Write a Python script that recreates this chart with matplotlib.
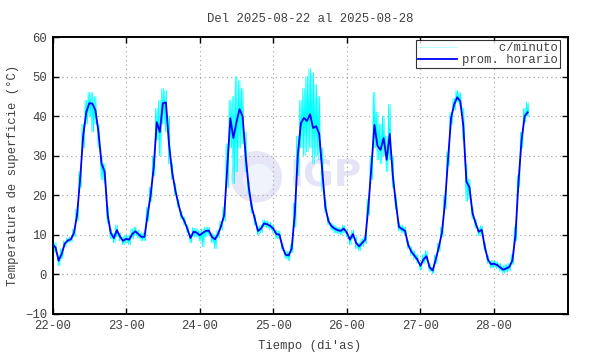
import numpy as np
import matplotlib
matplotlib.use("Agg")
import matplotlib.pyplot as plt
from matplotlib.patches import Ellipse

plt.rcParams["font.family"] = ["Liberation Mono", "DejaVu Sans Mono"]

title = "Del 2025-08-22 al 2025-08-28"
day_labels = ["22-00", "23-00", "24-00", "25-00", "26-00", "27-00", "28-00"]

# hourly mean, one list per day (starting 2025-08-22 00h)
hourly_mean = (
    [7.6, 6.8, 3.5, 5.2, 7.8, 8.6, 8.9, 10.5, 15, 24, 35, 41, 43.3, 43.2, 41.5, 36, 28, 26, 15, 10.5, 9.2, 11.2, 9.6, 8.5]
    + [9.0, 8.8, 10.2, 10.9, 10.2, 9.5, 9.5, 15, 20, 27, 38.5, 36, 43.3, 43.5, 33, 26, 21.5, 18, 15, 13.5, 11.5, 9.2, 10.8, 10.6]
    + [9.9, 10.5, 11, 11.1, 9.5, 8.9, 10.2, 12.3, 15, 27, 39.5, 34.5, 38.5, 41.8, 40, 30, 22, 17, 14, 11, 11.6, 12.9, 12.7, 12.3]
    + [11.6, 10.2, 10.1, 7, 5, 4.8, 6.5, 15, 30, 38.2, 39.6, 38.8, 40.5, 37, 37.5, 35.5, 26, 17, 13.5, 12.2, 11.6, 11.2, 11, 11.6]
    + [10.6, 8.8, 10.2, 8, 7.1, 8, 8.8, 17, 27, 37.8, 32.5, 31.5, 34.5, 29, 35.5, 25, 18, 12, 11.5, 11, 7.5, 5.8, 4.8, 3.8]
    + [2.2, 3.8, 4.6, 1.8, 1.0, 3.8, 6.9, 10.5, 18, 29, 39.5, 43, 44.8, 43.8, 37.5, 23.5, 22, 15.5, 13, 10.8, 11.3, 7, 3.8, 2.6]
    + [2.7, 2.4, 1.8, 1.2, 1.5, 1.9, 3.5, 10, 23.5, 34, 40, 41]
)

# per-minute readings: highest and lowest value seen within each hour
minute_hi = (
    [9, 8, 5, 6.5, 8.5, 9.2, 9.5, 11.5, 16.5, 26, 38, 44, 46, 46, 45, 38, 30, 28, 17, 11.5, 10.5, 12.5, 10.5, 9.5]
    + [10, 9.8, 11.5, 12, 11.2, 10.5, 10.5, 17, 22, 30, 42, 44, 47, 46.5, 40, 28, 23, 19, 16, 14.5, 12.5, 10.2, 11.8, 11.6]
    + [11, 11.5, 12, 12, 10.5, 10, 11.2, 13.5, 17, 33, 44, 45, 50, 49, 47, 36, 23.5, 18, 15, 12, 12.5, 13.8, 13.5, 13.2]
    + [12.5, 11.2, 11, 8, 6, 5.8, 7.5, 18, 35, 44, 47, 50, 52, 51, 48, 45, 32, 19, 14.5, 13, 12.5, 12, 11.8, 12.5]
    + [11.5, 10, 11.2, 9.5, 8, 9, 9.8, 19, 30, 46, 41, 38, 40, 35, 43, 30, 19.5, 13, 12.5, 12, 8.5, 7, 6, 5]
    + [3, 5, 6, 2.8, 1.8, 5, 8, 12, 20, 31, 41, 44.5, 46.5, 46, 42, 28, 24, 17, 14, 11.8, 12.3, 8, 4.8, 3.5]
    + [3.5, 3.2, 2.8, 2.2, 2.5, 2.8, 5, 12, 25, 36, 42, 43.5]
)
minute_lo = (
    [5.5, 5.5, 2.2, 4, 7, 8, 8.3, 9.5, 13.5, 22, 32, 38, 40, 36, 38, 32, 24, 23, 13, 9, 8, 9.5, 8.5, 7.5]
    + [8, 7.5, 9, 9.8, 9.2, 8.5, 8.5, 13.5, 18.5, 25, 34, 30, 38, 36, 28, 24, 20, 17, 14, 12.5, 10.5, 8, 9.5, 9.5]
    + [8.5, 7, 9.5, 10, 8, 6.5, 9.2, 11.2, 13.5, 22, 32, 23, 26, 32, 33, 26, 20, 15.5, 12.5, 10, 10.5, 12, 11.8, 11.3]
    + [10.5, 9, 9, 6, 4, 3.5, 5.5, 12, 25, 32, 30, 31, 32, 28, 30, 29, 21, 15.5, 12.5, 11.2, 10.5, 10.3, 10, 10.5]
    + [9.5, 7.5, 9, 6.5, 6, 7, 7.8, 15, 24, 32, 29, 28, 30, 26, 29, 22, 16.5, 11, 10.5, 10, 6.5, 4.8, 3.8, 2.8]
    + [1.2, 2.8, 3.5, 0.8, 0.2, 2.8, 5.8, 9.5, 16.5, 27.5, 38, 41.5, 43.5, 42.5, 34, 18.5, 19, 14, 11.8, 9.8, 10.2, 6, 2.8, 1.6]
    + [1.8, 1.5, 0.8, 0.3, 0.6, 1, 2.5, 8.5, 22, 32, 38.5, 40]
)

hours = np.arange(len(hourly_mean))
mean_x = hours / 24.0

# zigzag the minute extremes inside each hour
sub = np.array([-0.375, -0.125, 0.125, 0.375])
cy_x = (hours[:, None] + sub[None, :]).ravel() / 24.0
hi = np.array(minute_hi)
lo = np.array(minute_lo)
cy_y = np.column_stack([hi, lo, hi, lo]).ravel()

text_col = "#404040"
fig = plt.figure(figsize=(5.9, 3.54), dpi=100)
ax = fig.add_axes([0.089, 0.113, 0.873, 0.782])

# IGP watermark (sizes given in pixels, converted to data units)
px_x = 7 / (0.873 * 590)
px_y = 70 / (0.782 * 354)
ax.add_patch(Ellipse((2.77, 24.7), 50 * px_x, 50 * px_y, color="#e6e6f8", zorder=0))
ax.add_patch(Ellipse((2.80, 24.0), 30 * px_x, 30 * px_y, color="#eef3fc", zorder=0))
ax.text(3.22, 24.7, "IGP", fontsize=27, fontweight="bold", family="DejaVu Sans",
        color="#e4e4f6", ha="left", va="center", zorder=0)

ax.plot(cy_x, cy_y, color="#00ffff", linewidth=0.6, label="     c/minuto", zorder=2)
ax.plot(mean_x, hourly_mean, color="#0000ff", linewidth=1.3, label="prom. horario", zorder=3)

ax.set_xlim(0, 7)
ax.set_ylim(-10, 60)
ax.set_xticks(range(7))
ax.set_xticklabels(day_labels)
ax.set_yticks(range(-10, 61, 10))
ax.grid(color="#a0a0a0", linestyle=(0, (1, 3)), linewidth=0.8)
ax.tick_params(direction="in", length=4, width=1, top=True, right=True,
               labelsize=8.8, labelcolor=text_col, pad=4)
for s in ax.spines.values():
    s.set_linewidth(1.4)

ax.set_title(title, fontsize=8.8, color=text_col, pad=11)
ax.set_xlabel("Tiempo (di'as)", fontsize=8.8, color=text_col, labelpad=6)
ax.set_ylabel("Temperatura de superficie (°C)", fontsize=8.8, color=text_col, labelpad=4)

leg = ax.legend(loc="upper right", bbox_to_anchor=(0.985, 0.988), fontsize=8.8,
                frameon=True, fancybox=False, handlelength=3.2, handletextpad=0.4,
                borderpad=0.15, labelspacing=0.0, borderaxespad=0)
leg.get_frame().set_edgecolor("black")
leg.get_frame().set_linewidth(0.8)
for t in leg.get_texts():
    t.set_color(text_col)
leg.get_lines()[0].set_color("#b0ffff")

fig.savefig("out.png", dpi=100)
